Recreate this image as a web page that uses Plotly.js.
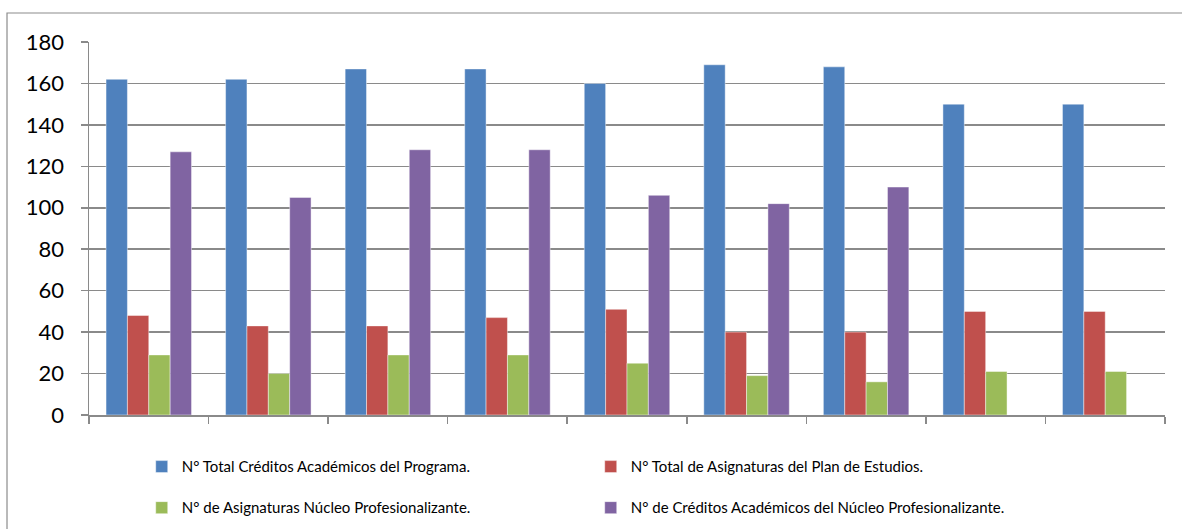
<!DOCTYPE html>
<html>
<head>
<meta charset="utf-8">
<script src="https://cdn.plot.ly/plotly-3.0.1.min.js"></script>
<style>
  html, body { margin: 0; padding: 0; background: #ffffff; }
  #chart { width: 1182px; height: 529px; }
</style>
</head>
<body>
<div id="chart"></div>
<script>
// Programas (categorías del eje X, sin etiquetas visibles)
const programas = ["1", "2", "3", "4", "5", "6", "7", "8", "9"];

// Series
const creditosTotales = [162, 162, 167, 167, 160, 169, 168, 150, 150];
const asignaturasTotales = [48, 43, 43, 47, 51, 40, 40, 50, 50];
const asignaturasNucleo = [29, 20, 29, 29, 25, 19, 16, 21, 21];
const creditosNucleo = [127, 105, 128, 128, 106, 102, 110, null, null];

const nombres = [
  "N° Total Créditos Académicos del Programa.",
  "N° Total de Asignaturas del Plan de Estudios.",
  "N° de Asignaturas Núcleo Profesionalizante.",
  "N° de Créditos Académicos del Núcleo Profesionalizante."
];

const colores = ["#4F81BD", "#C0504D", "#9BBB59", "#8064A2"];
const series = [creditosTotales, asignaturasTotales, asignaturasNucleo, creditosNucleo];
const leyendas = ["legend", "legend", "legend2", "legend2"];

const traces = series.map((vals, i) => ({
  type: "bar",
  name: nombres[i],
  x: programas,
  y: vals,
  legend: leyendas[i],
  marker: { color: colores[i], line: { color: "rgba(255,255,255,0.55)", width: 0.8 } },
  hoverinfo: "y+name"
}));

const font = "Lato, 'Open Sans', sans-serif";
const gris = "#8a8a8a";

const legendCommon = {
  orientation: "h",
  xanchor: "left",
  yanchor: "middle",
  x: 0.049,
  entrywidth: 404,
  entrywidthmode: "pixels",
  font: { family: font, size: 15, color: "#000000" },
  bgcolor: "rgba(0,0,0,0)",
  borderwidth: 0,
  itemclick: false,
  itemdoubleclick: false
};

const layout = {
  width: 1182,
  height: 529,
  margin: { l: 89, r: 17, t: 42, b: 114, autoexpand: false },
  paper_bgcolor: "#ffffff",
  plot_bgcolor: "#ffffff",
  barmode: "group",
  bargap: 0.285,
  bargroupgap: 0,
  font: { family: font, color: "#000000" },
  showlegend: true,
  legend: Object.assign({}, legendCommon, { y: -0.139 }),
  legend2: Object.assign({}, legendCommon, { y: -0.249 }),
  xaxis: {
    type: "category",
    showticklabels: false,
    showgrid: false,
    showline: true,
    linecolor: gris,
    linewidth: 1.5,
    ticks: "outside",
    tickson: "boundaries",
    ticklen: 7,
    tickwidth: 1.5,
    tickcolor: gris,
    fixedrange: true
  },
  yaxis: {
    range: [0, 180],
    dtick: 20,
    tick0: 0,
    showgrid: true,
    gridcolor: gris,
    gridwidth: 1.5,
    showline: true,
    linecolor: gris,
    linewidth: 1.5,
    zeroline: false,
    ticks: "outside",
    ticklen: 7,
    tickwidth: 1.5,
    tickcolor: gris,
    ticklabelstandoff: 12,
    tickfont: { family: font, size: 22, color: "#000000" },
    fixedrange: true
  },
  shapes: [
    {
      type: "rect",
      xref: "paper", yref: "paper",
      x0: -0.0762, x1: 1.2,
      y0: -0.4, y1: 1.0777,
      line: { color: "#8c8c8c", width: 1.2 },
      fillcolor: "rgba(0,0,0,0)",
      layer: "below"
    }
  ]
};

Plotly.newPlot("chart", traces, layout, { displayModeBar: false, staticPlot: true });
</script>
</body>
</html>
